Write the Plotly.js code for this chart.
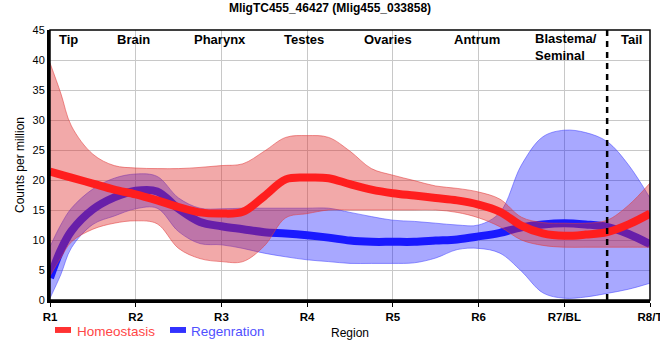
<!DOCTYPE html>
<html>
<head>
<meta charset="utf-8">
<script src="https://cdn.plot.ly/plotly-3.0.1.min.js"></script>
<style>html,body{margin:0;padding:0;background:#fff;} #chart{width:660px;height:360px;}</style>
</head>
<body>
<div id="chart"></div>
<script>
// Region tick labels (category positions 0..7)
const regions = ['R1','R2','R3','R4','R5','R6','R7/BL','R8/T'];
// Tissue labels placed along the top
const tissues = ['Tip','Brain','Pharynx','Testes','Ovaries','Antrum','Blastema/<br>Seminal','Tail'];
const tissueX = [0.22, 0.97, 1.98, 2.96, 3.94, 4.98, 5.64, 6.78];

// Positions (in region units) at which the smoothed curves were read
const sampleX = [0,0.125,0.25,0.5,0.75,1,1.25,1.5,1.75,2,2.25,2.5,2.75,3,3.25,3.5,3.75,4,4.25,4.5,4.75,5,5.25,5.5,5.75,6,6.25,6.5,6.75,7];

// Homeostasis
const homeoMean  = [21.4,20.9,20.4,19.4,18.4,17.6,16.6,15.5,14.6,14.4,14.7,17.3,20.1,20.4,20.3,19.3,18.4,17.8,17.4,17.0,16.6,15.9,14.7,12.4,11.1,10.7,10.9,11.3,12.6,14.4];
const homeoUpper = [39.5,34.5,29.0,24.3,22.4,22.0,21.9,21.9,22.1,22.4,22.7,24.8,27.1,27.4,27.1,24.8,21.9,20.8,19.9,19.0,18.6,18.0,16.8,13.8,12.9,12.8,12.8,13.3,15.8,19.5];
const homeoLower = [4.0,7.0,9.7,11.8,12.8,13.2,12.7,8.6,6.9,6.4,6.4,9.0,13.7,14.4,15.0,15.0,15.0,15.0,15.0,15.0,14.6,13.7,12.2,10.0,9.1,8.8,8.8,8.8,8.8,8.8];

// Regeneration
const regenMean  = [3.7,8.3,11.5,15.1,17.1,18.2,18.1,15.2,13.0,12.3,11.8,11.3,11.1,10.8,10.4,9.9,9.7,9.7,9.7,9.9,10.1,10.6,11.2,12.1,12.6,12.8,12.6,12.2,11.0,9.3];
const regenUpper = [8.9,12.5,15.3,18.5,20.3,21.0,20.6,17.0,15.3,15.2,15.3,15.3,15.3,15.3,15.3,14.6,13.9,13.3,13.1,12.8,12.5,12.5,14.6,22.5,27.2,28.3,27.9,26.4,22.5,17.0];
const regenLower = [0.3,4.2,8.7,12.6,14.0,15.2,15.3,11.4,9.4,9.2,8.6,7.8,7.2,6.7,6.4,6.1,6.1,6.1,6.2,7.0,8.4,8.6,7.8,4.8,1.2,0.3,0.5,1.1,1.8,2.8];

const boundaryX = 6.5; // regeneration boundary (dashed line)

const FONT = 'Arial, "Liberation Sans", sans-serif';
const spl = {shape:'spline', smoothing:1};

const traces = [
  {x: sampleX, y: regenLower, mode:'lines', line:Object.assign({color:'rgba(70,70,255,0.55)', width:1}, spl), hoverinfo:'skip', showlegend:false},
  {x: sampleX, y: regenUpper, mode:'lines', fill:'tonexty', fillcolor:'rgba(0,0,255,0.34)', line:Object.assign({color:'rgba(70,70,255,0.55)', width:1}, spl), hoverinfo:'skip', showlegend:false},
  {x: sampleX, y: regenMean, mode:'lines', name:'Regenration', line:Object.assign({color:'rgb(25,25,255)', width:8}, spl), showlegend:false},
  {x: sampleX, y: homeoLower, mode:'lines', line:Object.assign({color:'rgba(225,60,60,0.55)', width:1}, spl), hoverinfo:'skip', showlegend:false},
  {x: sampleX, y: homeoUpper, mode:'lines', fill:'tonexty', fillcolor:'rgba(222,40,40,0.4)', line:Object.assign({color:'rgba(225,60,60,0.55)', width:1}, spl), hoverinfo:'skip', showlegend:false},
  {x: sampleX, y: homeoMean, mode:'lines', name:'Homeostasis', line:Object.assign({color:'rgb(255,30,30)', width:8}, spl), showlegend:false}
];

const annotations = tissues.map((t, i) => ({
  x: tissueX[i], y: 43.4, xref:'x', yref:'y',
  text: '<b>' + t + '</b>', showarrow:false,
  xanchor: t.indexOf('Blastema') === 0 ? 'left' : 'center',
  yanchor: t.indexOf('Blastema') === 0 ? 'top' : 'middle',
  yshift: t.indexOf('Blastema') === 0 ? 11 : 0,
  align:'left',
  font:{family:FONT, size:13, color:'#000'}
}));
// custom legend texts
annotations.push({x:0.0417, y:-0.115, xref:'paper', yref:'paper', xanchor:'left', yanchor:'middle', showarrow:false,
  text:'Homeostasis', font:{family:FONT, size:13.5, color:'rgb(255,70,70)'}});
annotations.push({x:0.2317, y:-0.115, xref:'paper', yref:'paper', xanchor:'left', yanchor:'middle', showarrow:false,
  text:'Regenration', font:{family:FONT, size:13.5, color:'rgb(80,80,255)'}});

const shapes = [
  {type:'line', xref:'x', yref:'paper', x0:boundaryX, x1:boundaryX, y0:0, y1:1, line:{color:'#000', width:2.5, dash:'6px,5px'}},
  {type:'rect', xref:'paper', yref:'paper', x0:0, x1:1, y0:0, y1:1, line:{color:'#000', width:1.5}},
  {type:'rect', xref:'paper', yref:'paper', x0:0.0083, x1:0.035, y0:-0.1, y1:-0.122, line:{width:0}, fillcolor:'rgb(255,50,50)'},
  {type:'rect', xref:'paper', yref:'paper', x0:0.2, x1:0.2267, y0:-0.1, y1:-0.122, line:{width:0}, fillcolor:'rgb(50,50,255)'}
];

const layout = {
  width:660, height:360,
  margin:{l:50, r:10, t:30, b:60},
  paper_bgcolor:'#fff', plot_bgcolor:'#fff',
  showlegend:false,
  title:{text:'<b>MligTC455_46427 (Mlig455_033858)</b>', font:{family:FONT, size:12, color:'#000'},
         x:0.5, xref:'container', y:0.978, yref:'container', yanchor:'middle'},
  xaxis:{
    range:[0,7], tickmode:'array', tickvals:regions.map((r,i)=>i), ticktext:regions.map(r=>'<b>'+r+'</b>'),
    showgrid:true, gridcolor:'#c8c8c8', gridwidth:1, zeroline:false,
    showline:true, linecolor:'#000', linewidth:3,
    ticks:'outside', ticklen:4, tickcolor:'#000', tickwidth:1,
    ticklabeloverflow:'allow',
    tickfont:{family:FONT, size:11.5, color:'#000'},
    title:{text:'Region', font:{family:FONT, size:12, color:'#000'}, standoff:7},
    fixedrange:true
  },
  yaxis:{
    range:[0,45], dtick:5, tick0:0,
    showgrid:true, gridcolor:'#c8c8c8', gridwidth:1, zeroline:false,
    showline:true, linecolor:'#000', linewidth:3,
    ticks:'', tickfont:{family:FONT, size:11, color:'#000'},
    title:{text:'Counts per million', font:{family:FONT, size:12, color:'#000'}, standoff:6},
    fixedrange:true
  },
  annotations: annotations,
  shapes: shapes
};

Plotly.newPlot('chart', traces, layout, {displayModeBar:false, staticPlot:true});
</script>
</body>
</html>
